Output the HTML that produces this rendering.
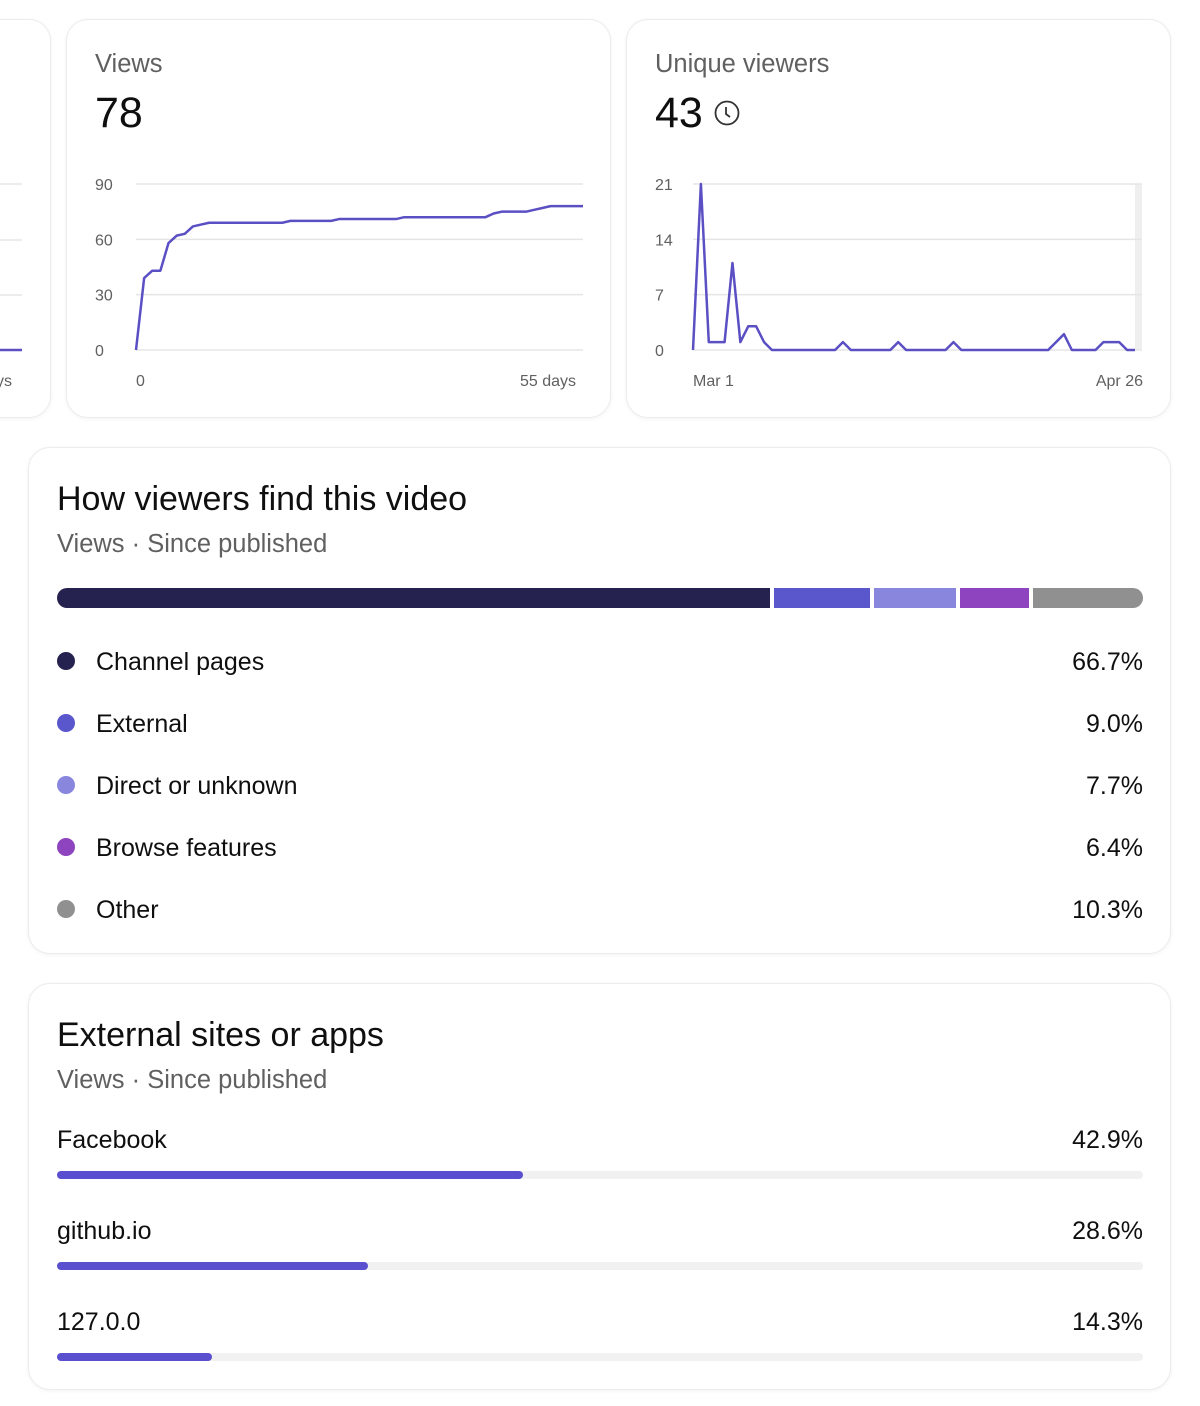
<!DOCTYPE html>
<html><head><meta charset="utf-8">
<style>
body{margin:0;width:1200px;height:1406px;background:#fff;font-family:"Liberation Sans",sans-serif;position:relative;overflow:hidden;color:#0f0f0f}
.card{position:absolute;background:#fff;border:1px solid #ececec;border-radius:22px;box-shadow:0 1px 4px rgba(0,0,0,0.05);box-sizing:border-box}
.abs{position:absolute;white-space:nowrap}
.lbl{font-size:25.5px;color:#606060}
.big{font-size:43px;color:#0f0f0f}
.title{font-size:34px;color:#0f0f0f}
.sub{font-size:25.5px;color:#606060}
.leg{font-size:25px;color:#0f0f0f}
.pct{font-size:25px;color:#0f0f0f;text-align:right;width:200px}
.dot{position:absolute;width:18px;height:18px;border-radius:50%}
svg text{font-family:"Liberation Sans",sans-serif;font-size:16px;fill:#606060}
</style></head><body>
<div class="card" style="left:-40px;top:19px;width:91px;height:399px"></div>
<div class="card" style="left:66px;top:19px;width:545px;height:399px"></div>
<div class="card" style="left:626px;top:19px;width:545px;height:399px"></div>
<div class="abs lbl" style="left:95px;top:50px">Views</div>
<div class="abs big" style="left:95px;top:89px">78</div>
<div class="abs lbl" style="left:655px;top:50px">Unique viewers</div>
<div class="abs big" style="left:655px;top:89px">43</div>
<svg class="abs" style="left:713px;top:99px" width="28" height="28" viewBox="0 0 28 28"><circle cx="14" cy="14" r="11.5" fill="none" stroke="#333" stroke-width="1.8"/><path d="M13 8v7l4 3" fill="none" stroke="#333" stroke-width="1.8"/></svg>
<svg id="charts" class="abs" style="left:0;top:0" width="1200" height="420"></svg>

<div class="card" style="left:28px;top:447px;width:1143px;height:507px"></div>
<div class="abs title" style="left:57px;top:480px">How viewers find this video</div>
<div class="abs sub" style="left:57px;top:530px">Views · Since published</div>
<div id="stack"></div>
<div id="legend"></div>

<div class="card" style="left:28px;top:983px;width:1143px;height:407px"></div>
<div class="abs title" style="left:57px;top:1016px">External sites or apps</div>
<div class="abs sub" style="left:57px;top:1066px">Views · Since published</div>
<div id="ext"></div>

<script>
const viewsValues=[0,39,43,43,58,62,63,67,68,69,69,69,69,69,69,69,69,69,69,70,70,70,70,70,70,71,71,71,71,71,71,71,71,72,72,72,72,72,72,72,72,72,72,72,74,75,75,75,75,76,77,78,78,78,78,78];
const viewsTicks=[0,30,60,90];
const uniqueValues=[0,21,1,1,1,11,1,3,3,1,0,0,0,0,0,0,0,0,0,1,0,0,0,0,0,0,1,0,0,0,0,0,0,1,0,0,0,0,0,0,0,0,0,0,0,0,1,2,0,0,0,0,1,1,1,0,0];
const uniqueTicks=[0,7,14,21];
const sourceNames=["Channel pages","External","Direct or unknown","Browse features","Other"];
const sourceValues=[66.7,9.0,7.7,6.4,10.3];
const sourceColors=["#26224f","#5a57cc","#8886dd","#8e44be","#909090"];
const extNames=["Facebook","github.io","127.0.0"];
const extValues=[42.9,28.6,14.3];

const NS="http://www.w3.org/2000/svg";
const svg=document.getElementById('charts');
function mk(tag,attrs,parent){const e=document.createElementNS(NS,tag);for(const k in attrs)e.setAttribute(k,attrs[k]);(parent||svg).appendChild(e);return e;}

[184,240,295].forEach(y=>{const l=mk('line',{x1:0,x2:22,y1:y,y2:y,stroke:'#e5e5e5','stroke-width':1.5});});
const pl=mk('line',{x1:0,x2:22,y1:350,y2:350,stroke:'#5b4fc4','stroke-width':2.5});

const pt=mk('text',{x:-4,y:386});pt.textContent='ys';


function lineChart(vals,ticks,x0,x1,y0,y1,gx0,gx1,labX,xl,xr,name){
  const max=ticks[ticks.length-1];
  const ys=v=>y0-(v/max)*(y0-y1);
  const xs=i=>x0+i*(x1-x0)/(vals.length-1);
  ticks.forEach(t=>{
    const g=mk('line',{x1:gx0,x2:gx1,y1:ys(t),y2:ys(t),stroke:'#e5e5e5','stroke-width':1.5});
    
    const tx=mk('text',{x:labX,y:ys(t)+6});tx.textContent=t;
    
  });
  const p=mk('polyline',{points:vals.map((v,i)=>xs(i)+','+ys(v)).join(' '),fill:'none',stroke:'#5b4fc4','stroke-width':2.5,'stroke-linejoin':'round'});
  
  const a=mk('text',{x:xl[1],y:386});a.textContent=xl[0];
  
  const b=mk('text',{x:xr[1],y:386,'text-anchor':'end'});b.textContent=xr[0];
  
}
lineChart(viewsValues,viewsTicks,136,583,350,184,136,583,95,['0',136],['55 days',576],'views');
const band=mk('rect',{x:1135,y:184,width:7,height:166,fill:'#efefef'});

lineChart(uniqueValues,uniqueTicks,693,1135,350,184,693,1142,655,['Mar 1',693],['Apr 26',1143],'unique');

const stack=document.getElementById('stack');
const total=sourceValues.reduce((a,b)=>a+b,0);
const gap=4, bx=57, bw=1086;
const avail=bw-gap*(sourceValues.length-1);
let cx=bx;
sourceValues.forEach((v,i)=>{
  const w=v/total*avail;
  const d=document.createElement('div');
  
  
  const r=i==0?'10px 0 0 10px':(i==sourceValues.length-1?'0 10px 10px 0':'0');
  d.style.cssText=`position:absolute;left:${cx}px;top:588px;width:${w}px;height:20px;background:${sourceColors[i]};border-radius:${r}`;
  stack.appendChild(d);
  cx+=w+gap;
});
const legend=document.getElementById('legend');
sourceNames.forEach((n,i)=>{
  const y=662+i*62;
  const dot=document.createElement('div');dot.className='dot';
  
  
  dot.style.cssText+=`left:57px;top:${y-10}px;background:${sourceColors[i]}`;
  legend.appendChild(dot);
  const t=document.createElement('div');t.className='abs leg';t.textContent=n;
  
  
  t.style.cssText+=`left:96px;top:${y-14}px`;legend.appendChild(t);
  const p=document.createElement('div');p.className='abs pct';p.textContent=sourceValues[i].toFixed(1)+'%';
  
  
  p.style.cssText+=`left:943px;top:${y-14}px`;legend.appendChild(p);
});
const ext=document.getElementById('ext');
extNames.forEach((n,i)=>{
  const y=1140+i*91;
  const t=document.createElement('div');t.className='abs leg';t.textContent=n;
  
  
  t.style.cssText+=`left:57px;top:${y-14}px`;ext.appendChild(t);
  const p=document.createElement('div');p.className='abs pct';p.textContent=extValues[i].toFixed(1)+'%';
  
  
  p.style.cssText+=`left:943px;top:${y-14}px`;ext.appendChild(p);
  const tr=document.createElement('div');
  
  
  tr.style.cssText=`position:absolute;left:57px;top:${y+31}px;width:1086px;height:8px;border-radius:4px;background:#f1f1f1`;
  ext.appendChild(tr);
  const f=document.createElement('div');
  
  
  f.style.cssText=`position:absolute;left:57px;top:${y+31}px;width:${extValues[i]/100*1086}px;height:8px;border-radius:4px;background:#5a4fcf`;
  ext.appendChild(f);
});
</script>
</body></html>
